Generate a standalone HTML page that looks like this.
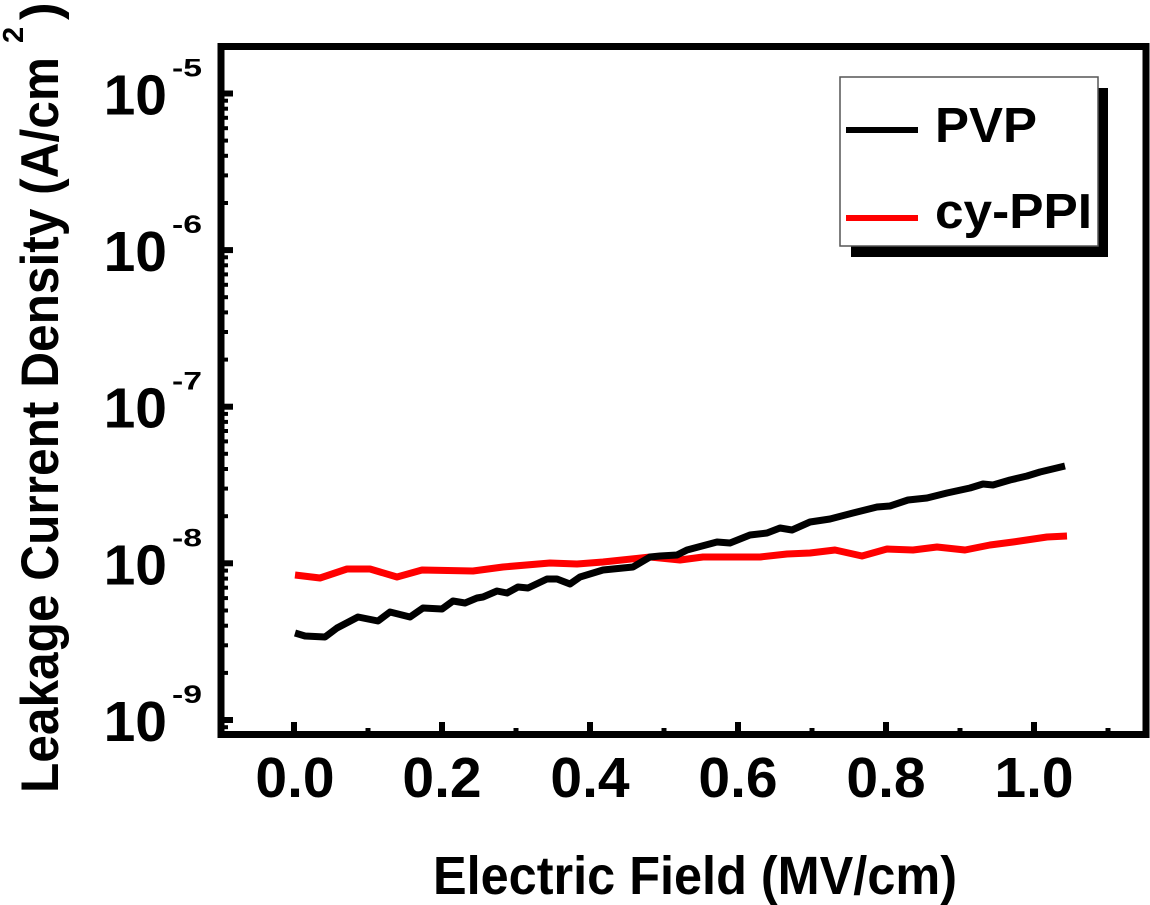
<!DOCTYPE html>
<html>
<head>
<meta charset="utf-8">
<style>
html,body{margin:0;padding:0;background:#fff;}
svg{display:block;}
text{font-family:"Liberation Sans",Arial,sans-serif;font-weight:bold;fill:#000;}
</style>
</head>
<body>
<svg width="1150" height="905" viewBox="0 0 1150 905" xmlns="http://www.w3.org/2000/svg">
<rect x="0" y="0" width="1150" height="905" fill="#fff"/>

<!-- Y minor ticks -->
<g stroke="#000" stroke-width="4">
<line x1="218" y1="100.7" x2="228" y2="100.7"/><line x1="218" y1="108.7" x2="228" y2="108.7"/><line x1="218" y1="117.8" x2="228" y2="117.8"/><line x1="218" y1="128.2" x2="228" y2="128.2"/><line x1="218" y1="140.6" x2="228" y2="140.6"/><line x1="218" y1="155.8" x2="228" y2="155.8"/><line x1="218" y1="175.4" x2="228" y2="175.4"/><line x1="218" y1="203.0" x2="228" y2="203.0"/>
<line x1="218" y1="257.3" x2="228" y2="257.3"/><line x1="218" y1="265.3" x2="228" y2="265.3"/><line x1="218" y1="274.4" x2="228" y2="274.4"/><line x1="218" y1="284.8" x2="228" y2="284.8"/><line x1="218" y1="297.2" x2="228" y2="297.2"/><line x1="218" y1="312.4" x2="228" y2="312.4"/><line x1="218" y1="332.0" x2="228" y2="332.0"/><line x1="218" y1="359.6" x2="228" y2="359.6"/>
<line x1="218" y1="413.9" x2="228" y2="413.9"/><line x1="218" y1="421.9" x2="228" y2="421.9"/><line x1="218" y1="431.0" x2="228" y2="431.0"/><line x1="218" y1="441.4" x2="228" y2="441.4"/><line x1="218" y1="453.8" x2="228" y2="453.8"/><line x1="218" y1="469.0" x2="228" y2="469.0"/><line x1="218" y1="488.6" x2="228" y2="488.6"/><line x1="218" y1="516.2" x2="228" y2="516.2"/>
<line x1="218" y1="570.6" x2="228" y2="570.6"/><line x1="218" y1="578.6" x2="228" y2="578.6"/><line x1="218" y1="587.7" x2="228" y2="587.7"/><line x1="218" y1="598.1" x2="228" y2="598.1"/><line x1="218" y1="610.5" x2="228" y2="610.5"/><line x1="218" y1="625.7" x2="228" y2="625.7"/><line x1="218" y1="645.3" x2="228" y2="645.3"/><line x1="218" y1="672.9" x2="228" y2="672.9"/>
<line x1="218" y1="727.2" x2="228" y2="727.2"/>
</g>
<!-- Y major ticks -->
<g stroke="#000" stroke-width="6">
<line x1="218" y1="93.5" x2="233" y2="93.5"/>
<line x1="218" y1="250.1" x2="233" y2="250.1"/>
<line x1="218" y1="406.7" x2="233" y2="406.7"/>
<line x1="218" y1="563.3" x2="233" y2="563.3"/>
<line x1="218" y1="720" x2="233" y2="720"/>
</g>
<!-- X ticks -->
<g stroke="#000" stroke-width="6">
<line x1="294" y1="737" x2="294" y2="722"/>
<line x1="442" y1="737" x2="442" y2="722"/>
<line x1="590" y1="737" x2="590" y2="722"/>
<line x1="738" y1="737" x2="738" y2="722"/>
<line x1="886" y1="737" x2="886" y2="722"/>
<line x1="1034" y1="737" x2="1034" y2="722"/>
</g>
<g stroke="#000" stroke-width="5">
<line x1="368" y1="737" x2="368" y2="728"/>
<line x1="516" y1="737" x2="516" y2="728"/>
<line x1="664" y1="737" x2="664" y2="728"/>
<line x1="812" y1="737" x2="812" y2="728"/>
<line x1="960" y1="737" x2="960" y2="728"/>
<line x1="1108" y1="737" x2="1108" y2="728"/>
</g>

<!-- Axes frame -->
<rect x="221" y="46.5" width="925" height="688" fill="none" stroke="#000" stroke-width="7"/>

<!-- Data -->
<polyline fill="none" stroke="#ff0000" stroke-width="7" stroke-linejoin="round" stroke-linecap="butt"
points="295,575 320,578 347,569 370,569 397,577 422,570 473,571 503,567 550,563 577,564 603,562 650,557 680,560 703,557 760,557 787,554 810,553 835,550 862,556 887,549 913,550 937,547 965,550 990,545 1013,542 1047,537 1067,536"/>
<polyline fill="none" stroke="#000" stroke-width="7" stroke-linejoin="round" stroke-linecap="butt"
points="295,633 305,636 325,637 337,628 358,617 378,621 390,612 410,617 423,608 442,609 453,601 465,603 477,598 483,597 497,591 507,593 518,587 528,588 547,579 557,579 570,584 580,577 603,570 633,567 650,557 660,556 677,555 687,550 717,542 730,543 750,535 767,533 780,528 792,530 810,522 830,519 853,513 877,507 890,506 908,500 927,498 947,493 970,488 983,484 993,485 1010,480 1027,476 1040,472 1065,466"/>

<!-- Legend -->
<rect x="851" y="88" width="257" height="169" fill="#000"/>
<rect x="840" y="77" width="258" height="169" fill="#fff" stroke="#555" stroke-width="1.5"/>
<line x1="846" y1="130" x2="918" y2="130" stroke="#000" stroke-width="6"/>
<line x1="846" y1="218" x2="918" y2="218" stroke="#ff0000" stroke-width="6"/>
<text x="935" y="142" font-size="49" textLength="102" lengthAdjust="spacingAndGlyphs">PVP</text>
<text x="935" y="228" font-size="49" textLength="157" lengthAdjust="spacingAndGlyphs">cy-PPI</text>

<!-- Y tick labels -->
<g font-size="57" text-anchor="end">
<text x="167" y="114.5">10</text>
<text x="167" y="271.1">10</text>
<text x="167" y="427.7">10</text>
<text x="167" y="584.3">10</text>
<text x="167" y="741">10</text>
</g>
<g font-size="25">
<text x="172" y="76.5" textLength="30" lengthAdjust="spacingAndGlyphs">-5</text>
<text x="172" y="233.1" textLength="30" lengthAdjust="spacingAndGlyphs">-6</text>
<text x="172" y="389.7" textLength="30" lengthAdjust="spacingAndGlyphs">-7</text>
<text x="172" y="546.3" textLength="30" lengthAdjust="spacingAndGlyphs">-8</text>
<text x="172" y="703" textLength="30" lengthAdjust="spacingAndGlyphs">-9</text>
</g>

<!-- X tick labels -->
<g font-size="57" text-anchor="middle">
<text x="295" y="797">0.0</text>
<text x="442" y="797">0.2</text>
<text x="590" y="797">0.4</text>
<text x="738" y="797">0.6</text>
<text x="886" y="797">0.8</text>
<text x="1034" y="797">1.0</text>
</g>

<!-- X axis title -->
<text x="433" y="894" font-size="54" textLength="524" lengthAdjust="spacingAndGlyphs">Electric Field (MV/cm)</text>

<!-- Y axis title -->
<g transform="rotate(-90)">
<text x="-793" y="58" font-size="53" textLength="736" lengthAdjust="spacingAndGlyphs">Leakage Current Density (A/cm</text>
<text x="-43" y="23" font-size="29">2</text>
<text x="-20" y="58" font-size="53">)</text>
</g>
</svg>
</body>
</html>
